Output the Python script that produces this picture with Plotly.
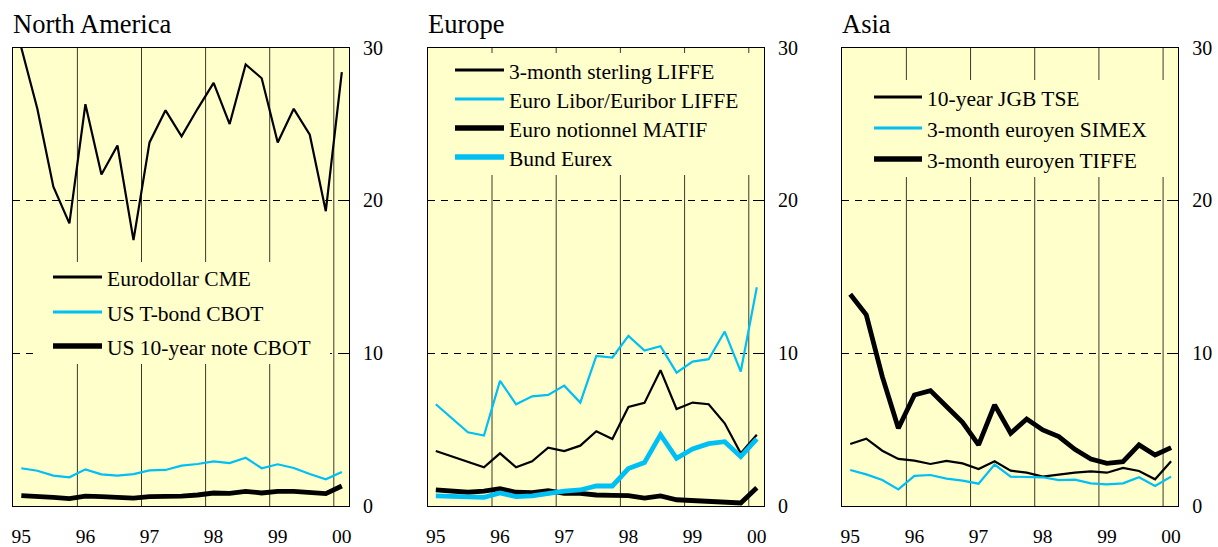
import plotly.graph_objects as go

# ---------------- data ----------------
quarters = [1995.125, 1995.375, 1995.625, 1995.875,
            1996.125, 1996.375, 1996.625, 1996.875,
            1997.125, 1997.375, 1997.625, 1997.875,
            1998.125, 1998.375, 1998.625, 1998.875,
            1999.125, 1999.375, 1999.625, 1999.875,
            2000.125]
year_lines = [1996, 1997, 1998, 1999, 2000]
xtick_pos = [1995.125, 1996.125, 1997.125, 1998.125, 1999.125, 2000.125]
xtick_text = ["95", "96", "97", "98", "99", "00"]
ytick_vals = [0, 10, 20, 30]
ytick_text = ["0", "10", "20", "30"]

# North America
eurodollar_cme = [30.0, 26.0, 20.9, 18.5, 26.3, 21.7, 23.6, 17.4, 23.8, 25.9, 24.2,
                  26.0, 27.7, 25.0, 28.9, 28.0, 23.8, 26.0, 24.3, 19.3, 28.4]
us_tbond_cbot = [2.47, 2.31, 1.99, 1.88, 2.40, 2.07, 1.99, 2.09, 2.33, 2.36, 2.64,
                 2.75, 2.92, 2.81, 3.16, 2.47, 2.73, 2.49, 2.09, 1.75, 2.23]
us_10y_note_cbot = [0.68, 0.65, 0.57, 0.48, 0.65, 0.61, 0.55, 0.52, 0.61, 0.61, 0.65,
                    0.72, 0.85, 0.83, 0.96, 0.85, 0.96, 0.96, 0.92, 0.81, 1.31]

# Europe
sterling_3m_liffe = [3.60, 3.25, 2.90, 2.53, 3.45, 2.53, 2.93, 3.82, 3.60, 3.95, 4.89,
                     4.39, 6.48, 6.75, 8.89, 6.35, 6.77, 6.66, 5.41, 3.45, 4.67]
euribor_liffe = [6.66, 5.74, 4.83, 4.61, 8.19, 6.66, 7.18, 7.27, 7.88, 6.77, 9.83,
                 9.72, 11.14, 10.17, 10.46, 8.73, 9.45, 9.61, 11.42, 8.80, 14.32]
euro_notionnel_matif = [1.05, 0.94, 0.90, 0.98, 1.14, 0.90, 0.87, 1.00, 0.83, 0.83, 0.72,
                        0.70, 0.68, 0.52, 0.66, 0.41, 0.35, 0.31, 0.24, 0.20, 1.20]
bund_eurex = [0.66, 0.63, 0.66, 0.57, 0.85, 0.61, 0.66, 0.83, 0.98, 1.05, 1.31,
              1.31, 2.45, 2.84, 4.67, 3.12, 3.73, 4.08, 4.21, 3.23, 4.39]

# Asia
jgb_10y_tse = [4.06, 4.41, 3.62, 3.08, 2.97, 2.75, 2.95, 2.79, 2.42, 2.93, 2.31,
               2.18, 1.92, 2.07, 2.18, 2.27, 2.18, 2.49, 2.29, 1.75, 2.93]
euroyen_3m_simex = [2.36, 2.07, 1.70, 1.09, 1.97, 2.03, 1.79, 1.66, 1.46, 2.71, 1.92,
                    1.92, 1.88, 1.70, 1.72, 1.48, 1.42, 1.48, 1.88, 1.31, 1.92]
euroyen_3m_tiffe = [13.86, 12.51, 8.47, 5.09, 7.27, 7.55, 6.51, 5.48, 4.00, 6.62, 4.76,
                    5.70, 4.98, 4.54, 3.71, 3.08, 2.79, 2.90, 4.00, 3.34, 3.82]

panel_titles = ["North America", "Europe", "Asia"]

# ---------------- styling ----------------
W, H = 1218, 547
FONT = "Liberation Serif, Times New Roman, serif"
BG = "#FFFFCC"
CYAN = "#00BFF3"
BLACK = "#000000"
THIN, THICK = 2.2, 4.8


def px(x):
    return x / W


def py(y):
    return 1 - y / H


panels = [
    dict(x0=13.3, x1=349.0, series=[
        ("Eurodollar CME", eurodollar_cme, BLACK, THIN),
        ("US T-bond CBOT", us_tbond_cbot, CYAN, THIN),
        ("US 10-year note CBOT", us_10y_note_cbot, BLACK, THICK)],
        box=(35, 262, 330, 364), leg_x=(53, 102, 105), leg_y=[277, 312, 346]),
    dict(x0=427.8, x1=764.0, series=[
        ("3-month sterling LIFFE", sterling_3m_liffe, BLACK, THIN),
        ("Euro Libor/Euribor LIFFE", euribor_liffe, CYAN, THIN),
        ("Euro notionnel MATIF", euro_notionnel_matif, BLACK, THICK),
        ("Bund Eurex", bund_eurex, CYAN, THICK)],
        box=(440, 53, 760, 175), leg_x=(455, 504, 507), leg_y=[70, 99, 128, 157]),
    dict(x0=842.2, x1=1178.3, series=[
        ("10-year JGB TSE", jgb_10y_tse, BLACK, THIN),
        ("3-month euroyen SIMEX", euroyen_3m_simex, CYAN, THIN),
        ("3-month euroyen TIFFE", euroyen_3m_tiffe, BLACK, THICK)],
        box=(850, 80, 1174, 177), leg_x=(874, 922, 925), leg_y=[97, 128, 159]),
]

Y_TOP, Y_BOT = 47.7, 506.0

fig = go.Figure()
shapes = []
annotations = []

for i, p in enumerate(panels):
    n = "" if i == 0 else str(i + 1)
    xa, ya = "x" + n, "y" + n
    for name, vals, col, w in p["series"]:
        fig.add_trace(go.Scatter(x=quarters, y=vals, mode="lines", name=name,
                                 line=dict(color=col, width=w), showlegend=False,
                                 hoverinfo="skip", xaxis=xa, yaxis=ya))
    fig.update_layout(**{
        "xaxis" + n: dict(domain=[px(p["x0"]), px(p["x1"])], range=[1995, 2000.237],
                          tickvals=xtick_pos, ticktext=xtick_text, ticks="",
                          showgrid=False, zeroline=False, showline=True, mirror=True,
                          linecolor=BLACK, linewidth=1, anchor=ya, automargin=False,
                          ticklabelstandoff=13, fixedrange=True,
                          tickfont=dict(family=FONT, size=19.5, color=BLACK)),
        "yaxis" + n: dict(domain=[py(Y_BOT), py(Y_TOP)], range=[0, 30], side="right",
                          tickvals=ytick_vals, ticktext=ytick_text, ticks="inside",
                          ticklen=5, tickcolor=BLACK, showgrid=True, gridcolor=BLACK,
                          griddash="7px,6px", gridwidth=1, zeroline=False,
                          showline=True, mirror=True, linecolor=BLACK, linewidth=1,
                          anchor=xa, ticklabelstandoff=9, automargin=False,
                          fixedrange=True,
                          tickfont=dict(family=FONT, size=20, color=BLACK)),
    })
    # year separator lines
    for yr in year_lines:
        shapes.append(dict(type="line", xref=xa, yref=ya + " domain", x0=yr, x1=yr,
                           y0=0, y1=1, layer="below",
                           line=dict(color="#3a3a2a", width=1)))
    # legend box
    bx0, by0, bx1, by1 = p["box"]
    shapes.append(dict(type="rect", xref="paper", yref="paper",
                       x0=px(bx0), x1=px(bx1), y0=py(by1), y1=py(by0),
                       fillcolor=BG, line=dict(width=0), layer="above"))
    lx0, lx1, tx = p["leg_x"]
    for (name, vals, col, w), ly in zip(p["series"], p["leg_y"]):
        shapes.append(dict(type="line", xref="paper", yref="paper",
                           x0=px(lx0), x1=px(lx1), y0=py(ly), y1=py(ly),
                           layer="above", line=dict(color=col, width=w + 0.6)))
        annotations.append(dict(text=name, xref="paper", yref="paper",
                                x=px(tx), y=py(ly + 2), xanchor="left", yanchor="middle",
                                showarrow=False,
                                font=dict(family=FONT, size=21.5, color=BLACK)))
    # panel title
    annotations.append(dict(text=panel_titles[i], xref="paper", yref="paper",
                            x=px(p["x0"] - 2), y=py(24), xanchor="left", yanchor="middle",
                            showarrow=False, font=dict(family=FONT, size=26.5, color=BLACK)))

fig.update_layout(width=W, height=H, autosize=False,
                  margin=dict(l=0, r=0, t=0, b=0),
                  paper_bgcolor="white", plot_bgcolor=BG, hovermode=False,
                  shapes=shapes, annotations=annotations, showlegend=False)

fig.write_html("out.html", config={"displayModeBar": False, "staticPlot": True},
               post_script="document.body.style.margin='0';"
                           "document.body.style.overflow='hidden';")
